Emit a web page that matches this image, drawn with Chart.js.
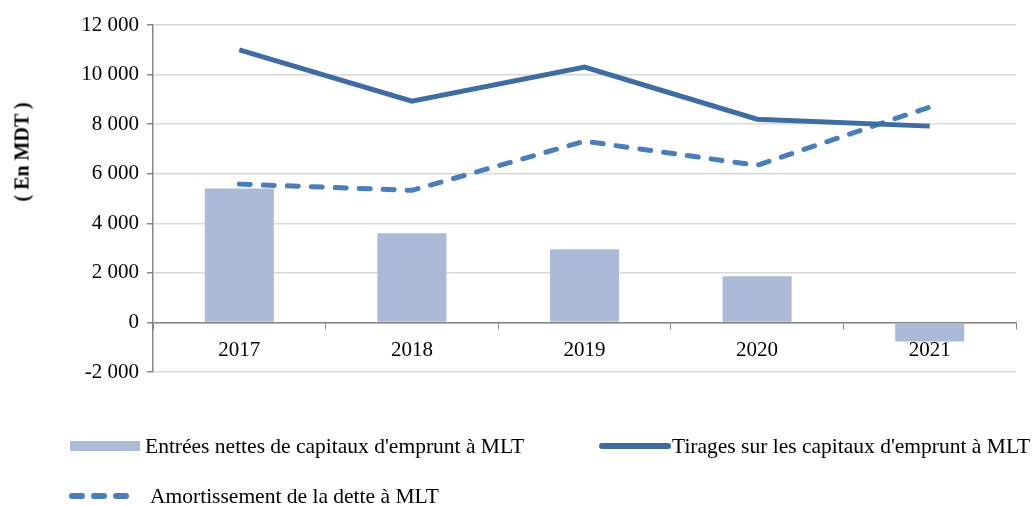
<!DOCTYPE html>
<html>
<head>
<meta charset="utf-8">
<script src="https://cdn.jsdelivr.net/npm/chart.js@4.4.1/dist/chart.umd.min.js"></script>
<style>
  html, body { margin: 0; padding: 0; background: #fff; }
  #wrap { position: relative; width: 1035px; height: 506px; }
  canvas { position: absolute; left: 0; top: 0; }
  .leg { position: absolute; font-family: "Liberation Serif", serif; font-size: 21.5px; color: #000; white-space: nowrap; line-height: 22px; }
  .sw { position: absolute; }
  .ytitle { position: absolute; left: 22px; top: 152px; transform: translate(-50%, -50%) rotate(-90deg);
            font-family: "Liberation Serif", serif; font-weight: bold; font-size: 20px; white-space: nowrap; }
</style>
</head>
<body>
<div id="wrap">
  <canvas id="chart" width="1035" height="506"></canvas>
  <div class="ytitle">( En MDT )</div>
  <div class="sw" style="left:70px;top:441px;width:70px;height:10px;background:#abbad7"></div>
  <div class="leg" style="left:145px;top:435px">Entrées nettes de capitaux d'emprunt à MLT</div>
  <svg class="sw" style="left:598px;top:440px" width="74" height="12"><line x1="4" y1="6" x2="70" y2="6" stroke="#3f6ca3" stroke-width="6" stroke-linecap="round"/></svg>
  <div class="leg" style="left:672px;top:435px">Tirages sur les capitaux d'emprunt à MLT</div>
  <svg class="sw" style="left:66px;top:490px" width="74" height="12"><line x1="6" y1="6" x2="70" y2="6" stroke="#4a7ebb" stroke-width="6" stroke-linecap="round" stroke-dasharray="10 12"/></svg>
  <div class="leg" style="left:150px;top:485px">Amortissement de la dette à MLT</div>
</div>
<script>
// Données (en MDT)
const years = ['2017', '2018', '2019', '2020', '2021'];
const entreesNettes = [5400, 3600, 2950, 1860, -770];
const tirages = [11000, 8930, 10300, 8200, 7920];
const amortissement = [5580, 5330, 7310, 6340, 8690];
const yTicks = [-2000, 0, 2000, 4000, 6000, 8000, 10000, 12000];

const serif = 'Liberation Serif';

function fmt(v) {
  const s = Math.abs(v).toString().replace(/\B(?=(\d{3})+(?!\d))/g, ' ');
  return (v < 0 ? '-' : '') + s;
}

const ctx = document.getElementById('chart').getContext('2d');
new Chart(ctx, {
  type: 'bar',
  data: {
    labels: years,
    datasets: [
      {
        type: 'line',
        label: 'Tirages sur les capitaux d\'emprunt à MLT',
        data: tirages,
        borderColor: '#3f6ca3',
        borderWidth: 5,
        pointRadius: 0,
        tension: 0,
        order: 1
      },
      {
        type: 'line',
        label: 'Amortissement de la dette à MLT',
        data: amortissement,
        borderColor: '#4a7ebb',
        borderWidth: 5,
        borderDash: [11, 13],
        borderCapStyle: 'round',
        pointRadius: 0,
        tension: 0,
        order: 2
      },
      {
        label: 'Entrées nettes de capitaux d\'emprunt à MLT',
        data: entreesNettes,
        backgroundColor: '#abbad7',
        barPercentage: 0.4,
        categoryPercentage: 1,
        order: 3
      }
    ]
  },
  options: {
    responsive: false,
    animation: false,
    layout: { padding: { top: 25, right: 19, bottom: 134, left: 0 } },
    plugins: {
      legend: { display: false },
      tooltip: { enabled: false }
    },
    scales: {
      x: {
        position: { y: 0 },
        offset: true,
        grid: { display: true, drawOnChartArea: false, offset: true, tickLength: 6, color: '#868686' },
        border: { color: '#868686', width: 1.5 },
        ticks: { color: '#000', font: { family: serif, size: 21 }, padding: 9 }
      },
      y: {
        min: -2000,
        max: 12000,
        afterBuildTicks: (axis) => { axis.ticks = yTicks.map(v => ({ value: v })); },
        afterFit: (axis) => { axis.width = 153; },
        grid: { color: '#d9d9d9', lineWidth: 1.5, tickLength: 6, tickColor: '#868686' },
        border: { color: '#868686', width: 1.5 },
        ticks: {
          color: '#000',
          font: { family: serif, size: 21 },
          padding: 8,
          callback: (v) => fmt(v)
        }
      }
    }
  }
});
</script>
</body>
</html>
